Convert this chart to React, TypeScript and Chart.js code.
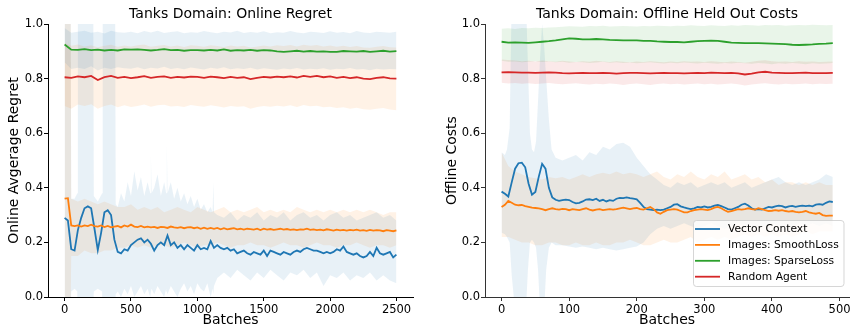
import React, { useEffect, useRef } from "react";
import { Chart, registerables } from "chart.js";

Chart.register(...registerables);

const FONT = '"DejaVu Sans", "Liberation Sans", sans-serif';
const C0 = "#1f77b4";
const C1 = "#ff7f0e";
const C2 = "#2ca02c";
const C3 = "#d62728";
const F0 = "rgba(31,119,180,0.1)";
const F1 = "rgba(255,127,14,0.1)";
const F2 = "rgba(44,160,44,0.1)";
const F3 = "rgba(214,39,40,0.1)";

function range(a: number, b: number, s: number): number[] {
  const r: number[] = [];
  for (let v = a; v <= b; v += s) r.push(v);
  return r;
}

// ---------- shared ticks / labels ----------
const yTickValues = [0, 0.2, 0.4, 0.6, 0.8, 1.0];
const leftXTickValues = [0, 500, 1000, 1500, 2000, 2500];
const rightXTickValues = [0, 100, 200, 300, 400, 500];
const seriesLabels = ["Vector Context", "Images: SmoothLoss", "Images: SparseLoss", "Random Agent"];

// ---------- LEFT: Online Regret ----------
const leftLineX = [...range(0, 2475, 25), 2499];
const leftBlue = [
  0.29, 0.28, 0.175, 0.17, 0.245, 0.29, 0.325, 0.332, 0.325, 0.25,
  0.172, 0.235, 0.31, 0.318, 0.3, 0.21, 0.165, 0.16, 0.175, 0.17,
  0.19, 0.2, 0.21, 0.215, 0.2, 0.21, 0.195, 0.17, 0.19, 0.2,
  0.19, 0.225, 0.19, 0.2, 0.18, 0.19, 0.175, 0.19, 0.18, 0.17,
  0.19, 0.175, 0.18, 0.175, 0.205, 0.18, 0.19, 0.18, 0.175, 0.18,
  0.17, 0.175, 0.16, 0.165, 0.17, 0.16, 0.155, 0.165, 0.16, 0.155,
  0.17, 0.15, 0.17, 0.165, 0.16, 0.155, 0.165, 0.16, 0.155, 0.165,
  0.17, 0.165, 0.175, 0.18, 0.175, 0.17, 0.17, 0.165, 0.16, 0.165,
  0.16, 0.165, 0.175, 0.17, 0.185, 0.165, 0.16, 0.155, 0.16, 0.15,
  0.145, 0.15, 0.165, 0.15, 0.18, 0.16, 0.155, 0.16, 0.165, 0.145,
  0.155,
];
const leftOrange = [
  0.36, 0.362, 0.262, 0.26, 0.262, 0.258, 0.262, 0.26, 0.265, 0.26,
  0.258, 0.262, 0.256, 0.26, 0.255, 0.258, 0.26, 0.255, 0.262, 0.258,
  0.265, 0.258, 0.256, 0.26, 0.255, 0.258, 0.255, 0.257, 0.253, 0.257,
  0.256, 0.253, 0.258, 0.255, 0.253, 0.256, 0.252, 0.255, 0.256, 0.252,
  0.255, 0.25, 0.254, 0.25, 0.253, 0.25, 0.253, 0.248, 0.252, 0.248,
  0.25, 0.252, 0.248, 0.25, 0.247, 0.25, 0.249, 0.247, 0.25, 0.245,
  0.25, 0.247, 0.249, 0.246, 0.248, 0.25, 0.247, 0.249, 0.246, 0.248,
  0.245, 0.248, 0.247, 0.25, 0.246, 0.248, 0.245, 0.247, 0.244, 0.248,
  0.246, 0.243, 0.247, 0.244, 0.246, 0.243, 0.246, 0.244, 0.247, 0.243,
  0.245, 0.242, 0.246, 0.243, 0.245, 0.244, 0.241, 0.245, 0.243, 0.241,
  0.244,
];
const leftSlowX = [...range(0, 2450, 50), 2499];
const leftGreen = [
  0.925, 0.906, 0.905, 0.908, 0.904, 0.906, 0.903, 0.905, 0.903, 0.907,
  0.906, 0.907, 0.905, 0.903, 0.905, 0.908, 0.904, 0.905, 0.902, 0.904,
  0.904, 0.903, 0.905, 0.903, 0.907, 0.902, 0.904, 0.903, 0.905, 0.902,
  0.904, 0.903, 0.9, 0.898, 0.9, 0.902, 0.899, 0.901, 0.899, 0.9,
  0.898, 0.898, 0.901, 0.9, 0.899, 0.901, 0.898, 0.9, 0.902, 0.899,
  0.901,
];
const leftRed = [
  0.805, 0.803, 0.808, 0.805, 0.81, 0.795, 0.805, 0.81, 0.803, 0.806,
  0.802, 0.805, 0.809, 0.803, 0.806, 0.808, 0.803, 0.806, 0.804, 0.807,
  0.806, 0.803, 0.807, 0.805, 0.802, 0.806, 0.803, 0.805, 0.798, 0.803,
  0.806, 0.804, 0.807, 0.805, 0.808, 0.804, 0.81, 0.806, 0.81, 0.805,
  0.808, 0.803, 0.806, 0.802, 0.805, 0.8, 0.798, 0.803, 0.805, 0.801,
  0.8,
];
const leftGreenBandHi = [
  0.985, 0.968, 0.972, 0.975, 0.968, 0.972, 0.965, 0.975, 0.97, 0.968,
  0.972, 0.966, 0.974, 0.969, 0.975, 0.967, 0.971, 0.973, 0.966, 0.97,
  0.968, 0.974, 0.97, 0.966, 0.972, 0.969, 0.975, 0.967, 0.971, 0.968,
  0.973, 0.966, 0.97, 0.968, 0.974, 0.969, 0.966, 0.972, 0.97, 0.967,
  0.973, 0.968, 0.971, 0.966, 0.974, 0.969, 0.967, 0.972, 0.97, 0.968,
  0.972,
];
const leftGreenBandLo = [
  0.86, 0.835, 0.84, 0.835, 0.845, 0.83, 0.84, 0.835, 0.842, 0.838,
  0.836, 0.842, 0.834, 0.84, 0.837, 0.843, 0.835, 0.839, 0.834, 0.841,
  0.837, 0.833, 0.84, 0.836, 0.842, 0.834, 0.838, 0.835, 0.84, 0.833,
  0.838, 0.835, 0.832, 0.837, 0.834, 0.839, 0.833, 0.836, 0.834, 0.838,
  0.832, 0.836, 0.834, 0.839, 0.833, 0.835, 0.831, 0.836, 0.833, 0.835,
  0.834,
];
const leftRedBandHi = [
  0.93, 0.92, 0.925, 0.918, 0.922, 0.915, 0.92, 0.924, 0.917, 0.921,
  0.918, 0.922, 0.925, 0.917, 0.92, 0.923, 0.918, 0.921, 0.916, 0.922,
  0.92, 0.917, 0.922, 0.919, 0.916, 0.921, 0.918, 0.92, 0.914, 0.918,
  0.921, 0.918, 0.922, 0.919, 0.923, 0.918, 0.924, 0.92, 0.923, 0.918,
  0.921, 0.917, 0.92, 0.916, 0.919, 0.914, 0.913, 0.917, 0.919, 0.915,
  0.914,
];
const leftRedBandLo = [
  0.7, 0.69, 0.705, 0.7, 0.706, 0.69, 0.7, 0.705, 0.695, 0.702,
  0.696, 0.7, 0.705, 0.697, 0.702, 0.704, 0.698, 0.7, 0.696, 0.703,
  0.7, 0.697, 0.702, 0.699, 0.694, 0.7, 0.697, 0.699, 0.69, 0.696,
  0.7, 0.697, 0.701, 0.698, 0.702, 0.696, 0.703, 0.699, 0.701, 0.695,
  0.697, 0.692, 0.695, 0.69, 0.693, 0.688, 0.686, 0.69, 0.692, 0.687,
  0.684,
];
const leftBlueBandX = [
  0, 46, 50, 75, 96, 100, 216, 220, 250, 283, 287, 381, 385, 400, 425,
  450, 475, 500, 525, 550, 575, 600, 625, 645, 650, 655, 675, 700, 725, 750,
  765, 770, 775, 800, 825, 850, 875, 900, 925, 950, 975, 1000, 1025, 1050, 1075,
  1100, 1115, 1120, 1125, 1150, 1200, 1250, 1300, 1350, 1400, 1450, 1500, 1550, 1600, 1650,
  1700, 1750, 1800, 1850, 1900, 1950, 2000, 2050, 2100, 2150, 2200, 2250, 2300, 2350, 2400,
  2450, 2499,
];
const leftBlueBandHi = [
  1.05, 1.05, 0.36, 0.36, 0.38, 1.05, 1.05, 0.37, 0.35, 0.38, 1.05, 1.05, 0.34, 0.33, 0.38,
  0.35, 0.42, 0.37, 0.46, 0.39, 0.44, 0.37, 0.42, 0.38, 0.52, 0.38, 0.4, 0.45, 0.37, 0.42,
  0.38, 0.56, 0.38, 0.42, 0.36, 0.4, 0.35, 0.38, 0.34, 0.37, 0.33, 0.36, 0.32, 0.34, 0.31,
  0.33, 0.31, 0.42, 0.31, 0.3, 0.29, 0.31, 0.28, 0.3, 0.29, 0.31, 0.28, 0.3, 0.29, 0.31,
  0.28, 0.3, 0.31, 0.29, 0.3, 0.28, 0.3, 0.31, 0.29, 0.3, 0.28, 0.29, 0.3, 0.31, 0.29,
  0.3, 0.28,
];
const leftBlueBandLo = [
  -0.05, -0.05, 0.02, 0.03, 0.02, -0.05, -0.05, 0.02, 0.03, 0.02, -0.05, -0.05, 0.01, 0.02, 0,
  0.03, 0.01, 0.04, 0, 0.02, 0.04, 0.01, 0.03, 0, 0.02, 0.03, 0.01, 0.04, 0.02, 0,
  0.03, 0.02, 0.01, 0.04, 0.02, 0, 0.03, 0.05, 0.02, 0.04, 0.01, 0.05, 0.03, 0.02, 0.05,
  0, 0.03, 0.01, 0.04, 0.07, 0.09, 0.07, 0.1, 0.08, 0.06, 0.09, 0.07, 0.1, 0.08, 0.06,
  0.09, 0.08, 0.1, 0.07, 0.09, 0.04, 0.08, 0.07, 0.09, 0.06, 0.08, 0.07, 0.09, 0.06, 0.08,
  0.06, 0.05,
];
const leftOrangeBandX = [0, 46, 50, ...range(100, 2450, 50), 2499];
const leftOrangeBandHi = [
  1.05, 1.05, 0.36,
  0.35, 0.36, 0.35, 0.34, 0.35, 0.34, 0.33, 0.33, 0.34, 0.32,
  0.33, 0.32, 0.33, 0.31, 0.32, 0.33, 0.32, 0.31, 0.33, 0.32,
  0.31, 0.32, 0.33, 0.31, 0.32, 0.31, 0.32, 0.33, 0.31, 0.32,
  0.31, 0.32, 0.31, 0.33, 0.32, 0.31, 0.32, 0.31, 0.32, 0.31,
  0.32, 0.31, 0.32, 0.31, 0.32, 0.31, 0.3, 0.31,
  0.31,
];
const leftOrangeBandLo = [
  -0.05, -0.05, 0.15,
  0.15, 0.17, 0.16, 0.16, 0.17, 0.17, 0.18, 0.18, 0.19, 0.18,
  0.19, 0.18, 0.19, 0.19, 0.18, 0.19, 0.2, 0.19, 0.18, 0.19,
  0.19, 0.2, 0.19, 0.18, 0.19, 0.19, 0.2, 0.19, 0.19, 0.18,
  0.19, 0.2, 0.19, 0.19, 0.18, 0.19, 0.2, 0.19, 0.19, 0.18,
  0.19, 0.19, 0.2, 0.19, 0.18, 0.19, 0.19, 0.18,
  0.19,
];

// ---------- RIGHT: Offline Held Out Costs ----------
const rightLineX = range(0, 490, 5);
const rightBlue = [
  0.386, 0.378, 0.368, 0.42, 0.47, 0.49, 0.492, 0.475, 0.415, 0.375,
  0.385, 0.44, 0.488, 0.47, 0.4, 0.365, 0.356, 0.352, 0.355, 0.357,
  0.355, 0.348, 0.343, 0.345, 0.35, 0.357, 0.358, 0.355, 0.36, 0.352,
  0.356, 0.35, 0.355, 0.352, 0.36, 0.363, 0.362, 0.365, 0.362, 0.36,
  0.358, 0.345, 0.33, 0.322, 0.32, 0.318, 0.32, 0.318, 0.32, 0.325,
  0.33, 0.338, 0.34, 0.332, 0.328, 0.325, 0.322, 0.325, 0.33, 0.328,
  0.332, 0.328, 0.33, 0.335, 0.337, 0.333, 0.328, 0.322, 0.32, 0.325,
  0.33, 0.338, 0.342, 0.335, 0.325, 0.32, 0.322, 0.32, 0.325, 0.33,
  0.328, 0.332, 0.335, 0.333, 0.328, 0.332, 0.334, 0.33, 0.333, 0.335,
  0.333, 0.335, 0.332, 0.338, 0.34, 0.338, 0.345, 0.35, 0.348,
];
const rightOrange = [
  0.33, 0.338, 0.352, 0.345, 0.338, 0.336, 0.337, 0.333, 0.33, 0.327,
  0.326, 0.325, 0.322, 0.318, 0.322, 0.325, 0.322, 0.32, 0.323, 0.322,
  0.318, 0.322, 0.32, 0.318, 0.322, 0.325, 0.32, 0.317, 0.32, 0.322,
  0.318, 0.32, 0.322, 0.32, 0.322, 0.325, 0.327, 0.325, 0.322, 0.325,
  0.326, 0.322, 0.32, 0.325, 0.33, 0.322, 0.31, 0.305, 0.312, 0.318,
  0.32, 0.322, 0.32, 0.315, 0.31, 0.31, 0.315, 0.318, 0.32, 0.322,
  0.32, 0.318, 0.322, 0.327, 0.33, 0.325, 0.318, 0.312, 0.315, 0.318,
  0.322, 0.32, 0.322, 0.325, 0.322, 0.32, 0.325, 0.322, 0.318, 0.315,
  0.316, 0.318, 0.316, 0.318, 0.315, 0.313, 0.315, 0.312, 0.31, 0.312,
  0.315, 0.31, 0.307, 0.305, 0.308, 0.3, 0.297, 0.298, 0.298,
];
const rightSlowX = range(0, 490, 10);
const rightGreen = [
  0.935, 0.932, 0.933, 0.932, 0.931, 0.933, 0.935, 0.937, 0.94, 0.944,
  0.947, 0.946, 0.944, 0.944, 0.945, 0.944, 0.942, 0.941, 0.94, 0.94,
  0.94, 0.938, 0.938, 0.936, 0.935, 0.934, 0.934, 0.933, 0.935, 0.937,
  0.938, 0.939, 0.938, 0.935, 0.932, 0.931, 0.93, 0.93, 0.93, 0.929,
  0.928, 0.927, 0.926, 0.924, 0.923, 0.924, 0.925, 0.927, 0.928, 0.93,
];
const rightRed = [
  0.823, 0.824, 0.823, 0.822, 0.822, 0.821, 0.822, 0.823, 0.822, 0.82,
  0.819, 0.82, 0.821, 0.82, 0.82, 0.821, 0.82, 0.818, 0.82, 0.821,
  0.821, 0.82, 0.819, 0.82, 0.821, 0.82, 0.82, 0.819, 0.82, 0.821,
  0.82, 0.822, 0.821, 0.82, 0.821, 0.819, 0.815, 0.818, 0.823, 0.825,
  0.822, 0.821, 0.82, 0.82, 0.821, 0.822, 0.82, 0.82, 0.82, 0.821,
];
const rightGreenBandHi = [
  0.983, 0.984, 0.982, 0.985, 0.984, 0.986, 0.985, 0.987, 0.988, 0.99,
  0.992, 0.991, 0.99, 0.993, 0.992, 0.994, 0.991, 0.992, 0.993, 0.992,
  0.991, 0.993, 0.992, 0.994, 0.993, 0.992, 0.994, 0.993, 0.995, 0.994,
  0.993, 0.995, 0.994, 0.993, 0.995, 0.994, 0.996, 0.995, 0.994, 0.996,
  0.995, 0.996, 0.994, 0.995, 0.996, 0.995, 0.997, 0.996, 0.995, 0.996,
];
const rightGreenBandLo = [
  0.865, 0.862, 0.863, 0.86, 0.862, 0.864, 0.861, 0.863, 0.86, 0.862,
  0.858, 0.861, 0.86, 0.857, 0.859, 0.862, 0.858, 0.86, 0.857, 0.859,
  0.856, 0.858, 0.86, 0.857, 0.855, 0.858, 0.856, 0.859, 0.857, 0.855,
  0.858, 0.856, 0.854, 0.857, 0.855, 0.858, 0.856, 0.854, 0.857, 0.855,
  0.853, 0.856, 0.854, 0.857, 0.855, 0.853, 0.856, 0.854, 0.855, 0.857,
];
const rightRedBandHi = [
  0.87, 0.868, 0.866, 0.864, 0.865, 0.863, 0.866, 0.864, 0.862, 0.865,
  0.863, 0.861, 0.864, 0.862, 0.865, 0.863, 0.861, 0.864, 0.862, 0.86,
  0.863, 0.861, 0.864, 0.862, 0.86, 0.863, 0.861, 0.864, 0.862, 0.863,
  0.861, 0.864, 0.862, 0.86, 0.863, 0.861, 0.858, 0.862, 0.865, 0.867,
  0.864, 0.862, 0.863, 0.861, 0.864, 0.862, 0.863, 0.861, 0.862, 0.863,
];
const rightRedBandLo = [
  0.785, 0.782, 0.784, 0.781, 0.783, 0.78, 0.782, 0.784, 0.781, 0.779,
  0.781, 0.783, 0.78, 0.778, 0.781, 0.779, 0.782, 0.78, 0.777, 0.78,
  0.782, 0.779, 0.777, 0.78, 0.782, 0.779, 0.781, 0.778, 0.78, 0.782,
  0.779, 0.781, 0.778, 0.78, 0.782, 0.779, 0.775, 0.778, 0.781, 0.783,
  0.78, 0.778, 0.781, 0.779, 0.78, 0.782, 0.779, 0.781, 0.78, 0.781,
];
const rightOrangeBandHi = [
  0.53, 0.48, 0.46, 0.45, 0.44, 0.435, 0.43, 0.44, 0.435, 0.44,
  0.43, 0.44, 0.45, 0.44, 0.45, 0.455, 0.45, 0.46, 0.45, 0.455,
  0.45, 0.44, 0.45, 0.46, 0.44, 0.43, 0.45, 0.44, 0.46, 0.44,
  0.43, 0.45, 0.44, 0.46, 0.43, 0.44, 0.45, 0.43, 0.44, 0.42,
  0.43, 0.41, 0.42, 0.42, 0.41, 0.42, 0.41, 0.42, 0.41, 0.41,
];
const rightOrangeBandLo = [
  0.22, 0.22, 0.21, 0.2, 0.2, 0.19, 0.19, 0.2, 0.2, 0.19,
  0.19, 0.2, 0.19, 0.19, 0.2, 0.19, 0.19, 0.2, 0.2, 0.21,
  0.2, 0.19, 0.19, 0.2, 0.21, 0.2, 0.2, 0.21, 0.22, 0.2,
  0.21, 0.22, 0.21, 0.22, 0.21, 0.22, 0.23, 0.22, 0.23, 0.22,
  0.23, 0.22, 0.23, 0.22, 0.23, 0.24, 0.23, 0.24, 0.24, 0.24,
];
const rightBlueBandX = [
  0, 5, 8, 12, 15, 20, 28, 36, 39, 42, 45, 48, 51, 54, 57, 60, 63, 66, 70, 74, 80,
  ...range(90, 490, 10),
];
const rightBlueBandHi = [
  0.53, 0.52, 0.54, 0.62, 1.1, 1.1, 1.1, 1.1, 0.85, 0.6,
  0.54, 0.53, 0.57, 0.72, 0.88, 1.0, 0.92, 0.8, 0.65, 0.54,
  0.51,
  0.5, 0.51, 0.52, 0.5, 0.53, 0.52, 0.55, 0.54, 0.56, 0.565,
  0.55, 0.51, 0.48, 0.45, 0.43, 0.41, 0.4, 0.42, 0.41, 0.42,
  0.4, 0.41, 0.42, 0.41, 0.42, 0.4, 0.41, 0.42, 0.4, 0.41,
  0.42, 0.43, 0.44, 0.42, 0.41, 0.42, 0.41, 0.42, 0.43, 0.45,
  0.44,
];
const rightBlueBandLo = [
  0.235, 0.23, 0.22, 0.2, 0.08, -0.05, -0.05, -0.05, 0.1, 0.2,
  0.21, 0.2, 0.18, 0.1, -0.05, -0.05, -0.05, 0.1, 0.18, 0.2,
  0.19,
  0.19, 0.185, 0.18, 0.185, 0.18, 0.175, 0.18, 0.175, 0.17, 0.175,
  0.18, 0.185, 0.2, 0.23, 0.25, 0.26, 0.25, 0.26, 0.27, 0.26,
  0.25, 0.26, 0.27, 0.26, 0.25, 0.26, 0.27, 0.26, 0.25, 0.26,
  0.26, 0.27, 0.26, 0.25, 0.26, 0.27, 0.26, 0.27, 0.26, 0.27,
  0.26,
];

// ---------- helpers ----------
function pts(xs: number[], ys: number[]) {
  return xs.map((x, i) => ({ x, y: ys[i] }));
}
function lineDS(label: string, xs: number[], ys: number[], color: string, order: number) {
  return {
    label,
    data: pts(xs, ys),
    borderColor: color,
    backgroundColor: color,
    borderWidth: 1.8,
    pointRadius: 0,
    fill: false,
    tension: 0,
    order,
  };
}
function bandDS(xs: number[], lo: number[], hi: number[], color: string) {
  return [
    { label: "_lo", data: pts(xs, lo), borderWidth: 0, borderColor: "rgba(0,0,0,0)", pointRadius: 0, fill: false, order: 20 },
    { label: "_hi", data: pts(xs, hi), borderWidth: 0, borderColor: "rgba(0,0,0,0)", pointRadius: 0, fill: "-1", backgroundColor: color, order: 20 },
  ];
}

function titlePlugin(text: string) {
  return {
    id: "panelTitle",
    afterDraw(chart: any) {
      const { ctx, chartArea } = chart;
      ctx.save();
      ctx.font = `14px ${FONT}`;
      ctx.fillStyle = "#000";
      ctx.textAlign = "center";
      ctx.textBaseline = "middle";
      ctx.fillText(text, (chartArea.left + chartArea.right) / 2, 14);
      ctx.restore();
    },
  };
}

const legendPlugin = {
  id: "boxLegend",
  afterDraw(chart: any) {
    const { ctx } = chart;
    const colors = [C0, C1, C2, C3];
    const bx = 267.5, by = 220.5, bw = 150.5, bh = 66;
    ctx.save();
    ctx.beginPath();
    if (ctx.roundRect) ctx.roundRect(bx, by, bw, bh, 3);
    else ctx.rect(bx, by, bw, bh);
    ctx.fillStyle = "rgba(255,255,255,0.8)";
    ctx.fill();
    ctx.strokeStyle = "rgba(204,204,204,0.8)";
    ctx.lineWidth = 1;
    ctx.stroke();
    ctx.font = `10.7px ${FONT}`;
    ctx.textAlign = "left";
    ctx.textBaseline = "middle";
    seriesLabels.forEach((lab, i) => {
      const y = 229 + i * 15.9;
      ctx.beginPath();
      ctx.moveTo(269, y);
      ctx.lineTo(294, y);
      ctx.strokeStyle = colors[i];
      ctx.lineWidth = 1.8;
      ctx.stroke();
      ctx.fillStyle = "#000";
      ctx.fillText(lab, 302, y + 0.5);
    });
    ctx.restore();
  },
};

type Panel = {
  title: string;
  yLabel: string;
  xMin: number;
  xMax: number;
  xTicks: number[];
  yWidth: number;
  yTitlePad: number;
  padRight: number;
  axisColor: string;
  datasets: any[];
  legend: boolean;
};

function makeConfig(p: Panel): any {
  const tickFont = { family: FONT, size: 11.5 };
  const labelFont = { family: FONT, size: 14, lineHeight: 1 };
  const plugins: any[] = [titlePlugin(p.title)];
  if (p.legend) plugins.push(legendPlugin);
  const grid = { display: true, drawOnChartArea: false, drawTicks: true, tickLength: 4, color: p.axisColor, lineWidth: 1 };
  const border = { display: true, color: p.axisColor, width: 1 };
  return {
    type: "line",
    data: { datasets: p.datasets },
    options: {
      responsive: false,
      animation: false,
      devicePixelRatio: 1,
      events: [],
      layout: { padding: { left: 0, right: p.padRight, top: 24, bottom: 0 } },
      plugins: {
        legend: { display: false },
        tooltip: { enabled: false },
        title: { display: false },
        filler: { drawTime: "beforeDatasetsDraw" },
      },
      scales: {
        x: {
          type: "linear",
          min: p.xMin,
          max: p.xMax,
          afterBuildTicks: (s: any) => {
            s.ticks = p.xTicks.map((v) => ({ value: v }));
          },
          afterFit: (s: any) => {
            s.height = 31;
            s.paddingLeft = 0;
            s.paddingRight = 0;
          },
          grid,
          border,
          ticks: { font: tickFont, color: "#000", padding: 2, maxRotation: 0, autoSkip: false, callback: (v: any) => String(v) },
          title: { display: true, text: "Batches", font: labelFont, color: "#000", padding: { top: 0, bottom: 1 } },
        },
        y: {
          type: "linear",
          min: 0,
          max: 1,
          afterBuildTicks: (s: any) => {
            s.ticks = yTickValues.map((v) => ({ value: v }));
          },
          afterFit: (s: any) => {
            s.width = p.yWidth;
            s.paddingTop = 0;
            s.paddingBottom = 0;
          },
          grid,
          border,
          ticks: { font: tickFont, color: "#000", padding: 1, autoSkip: false, callback: (v: any) => Number(v).toFixed(1) },
          title: { display: true, text: p.yLabel, font: labelFont, color: "#000", padding: { top: p.yTitlePad, bottom: 0 } },
        },
      },
    },
    plugins,
  };
}

function leftPanel(): Panel {
  return {
    title: "Tanks Domain: Online Regret",
    yLabel: "Online Avgerage Regret",
    xMin: -125,
    xMax: 2624,
    xTicks: leftXTickValues,
    yWidth: 48,
    yTitlePad: 7,
    padRight: 13,
    axisColor: "#000",
    legend: false,
    datasets: [
      ...bandDS(leftSlowX, leftGreenBandLo, leftGreenBandHi, F0),
      ...bandDS(leftSlowX, leftRedBandLo, leftRedBandHi, F1),
      ...bandDS(leftBlueBandX, leftBlueBandLo, leftBlueBandHi, F0),
      ...bandDS(leftOrangeBandX, leftOrangeBandLo, leftOrangeBandHi, F1),
      lineDS(seriesLabels[0], leftLineX, leftBlue, C0, 4),
      lineDS(seriesLabels[1], leftLineX, leftOrange, C1, 3),
      lineDS(seriesLabels[2], leftSlowX, leftGreen, C2, 2),
      lineDS(seriesLabels[3], leftSlowX, leftRed, C3, 1),
    ],
  };
}

function rightPanel(): Panel {
  return {
    title: "Tanks Domain: Offline Held Out Costs",
    yLabel: "Offline Costs",
    xMin: -24.5,
    xMax: 514,
    xTicks: rightXTickValues,
    yWidth: 59,
    yTitlePad: 19,
    padRight: 3,
    axisColor: "#333",
    legend: true,
    datasets: [
      ...bandDS(rightSlowX, rightGreenBandLo, rightGreenBandHi, F2),
      ...bandDS(rightSlowX, rightRedBandLo, rightRedBandHi, F3),
      ...bandDS(rightBlueBandX, rightBlueBandLo, rightBlueBandHi, F0),
      ...bandDS(rightSlowX, rightOrangeBandLo, rightOrangeBandHi, F1),
      lineDS(seriesLabels[0], rightLineX, rightBlue, C0, 4),
      lineDS(seriesLabels[1], rightLineX, rightOrange, C1, 3),
      lineDS(seriesLabels[2], rightSlowX, rightGreen, C2, 2),
      lineDS(seriesLabels[3], rightSlowX, rightRed, C3, 1),
    ],
  };
}

function PanelCanvas({ make, left }: { make: () => Panel; left: number }) {
  const ref = useRef<HTMLCanvasElement>(null);
  useEffect(() => {
    const chart = new Chart(ref.current as HTMLCanvasElement, makeConfig(make()));
    return () => chart.destroy();
  }, []);
  return (
    <canvas
      ref={ref}
      width={426}
      height={328}
      style={{ position: "absolute", left, top: 0, width: 426, height: 328 }}
    />
  );
}

export default function App() {
  return (
    <div style={{ position: "absolute", left: 0, top: 0, width: 852, height: 328, background: "#fff", overflow: "hidden" }}>
      <PanelCanvas make={leftPanel} left={0} />
      <PanelCanvas make={rightPanel} left={426} />
    </div>
  );
}
